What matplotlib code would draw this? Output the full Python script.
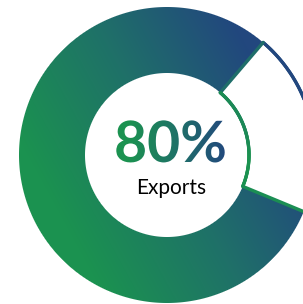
import numpy as np
import matplotlib
matplotlib.use('Agg')
import matplotlib.pyplot as plt
from matplotlib.patches import Wedge, PathPatch
from matplotlib.collections import LineCollection
from matplotlib.textpath import TextPath
from matplotlib.font_manager import FontProperties
from matplotlib.transforms import Affine2D

# data
share = 80
parts = [share, 100 - share]
big_label = f"{share}%"
sub_label = "Exports"

W, H = 303, 304
GREEN = np.array([27, 146, 80]) / 255
TEAL = np.array([31, 113, 104]) / 255
BLUE = np.array([34, 71, 126]) / 255


def blend(t):
    t = np.clip(t, 0, 1)[..., None]
    lo = GREEN + (TEAL - GREEN) * np.clip(t * 2, 0, 1)
    hi = TEAL + (BLUE - TEAL) * np.clip(t * 2 - 1, 0, 1)
    return np.where(t < 0.5, lo, hi)


cx, cy = 167, H - 155
r_out, r_in = 148, 82

fig = plt.figure(figsize=(W / 100, H / 100), dpi=100)
ax = fig.add_axes([0, 0, 1, 1])
ax.set_xlim(0, W)
ax.set_ylim(0, H)
ax.set_aspect('equal')
ax.axis('off')

# gradient ring
xs = np.arange(W) + 0.5
ys = np.arange(H) + 0.5
X, Y = np.meshgrid(xs, ys)
s = 0.88 * X - 0.48 * (H - Y)
rgb = blend((s + 50) / 245)
d = np.hypot(X - cx, Y - cy)
alpha = np.clip(r_out - d + 0.5, 0, 1) * np.clip(d - r_in + 0.5, 0, 1)
ax.imshow(np.dstack([rgb, alpha]), extent=(0, W, 0, H), origin='lower',
          interpolation='nearest', zorder=1)

# empty part of the ring
span = parts[1] / 100 * 360
mid = 13.5
th1, th2 = mid - span / 2, mid + span / 2
ax.add_patch(Wedge((cx, cy), r_out, th1, th2, width=r_out - r_in,
                   facecolor='white', edgecolor='none', zorder=2))

# outline of the empty part
a_out = np.radians(np.linspace(th1, th2, 120))
a_in = a_out[::-1]
px = np.concatenate([cx + r_out * np.cos(a_out), cx + r_in * np.cos(a_in), [cx + r_out * np.cos(a_out[0])]])
py = np.concatenate([cy + r_out * np.sin(a_out), cy + r_in * np.sin(a_in), [cy + r_out * np.sin(a_out[0])]])
pts = np.column_stack([px, py])
segs = np.stack([pts[:-1], pts[1:]], axis=1)
mx = segs[:, :, 0].mean(axis=1)
my = H - segs[:, :, 1].mean(axis=1)
cols = blend((mx - 0.5 * my - 170) / 70)
ax.add_collection(LineCollection(segs, colors=cols, linewidths=2.4,
                                 capstyle='round', joinstyle='round', zorder=3))

# big gradient label
fp = FontProperties(family='Lato', weight='bold')
tp = TextPath((0, 0), big_label, size=57, prop=fp)
ext = tp.get_extents()
tp = Affine2D().translate(170.5 - (ext.x0 + ext.x1) / 2, H - 162).transform_path(tp)
clip = PathPatch(tp, transform=ax.transData, facecolor='none', edgecolor='none')
ax.add_patch(clip)
text_rgb = blend((X - 128) / 100)
t_img = ax.imshow(np.dstack([text_rgb, np.ones_like(X)]), extent=(0, W, 0, H),
                  origin='lower', interpolation='nearest', zorder=4)
t_img.set_clip_path(clip)

ax.text(171, H - 194, sub_label, ha='center', va='baseline', fontsize=15,
        family='Lato', color='black', zorder=5)

fig.savefig('out.png', dpi=100)
